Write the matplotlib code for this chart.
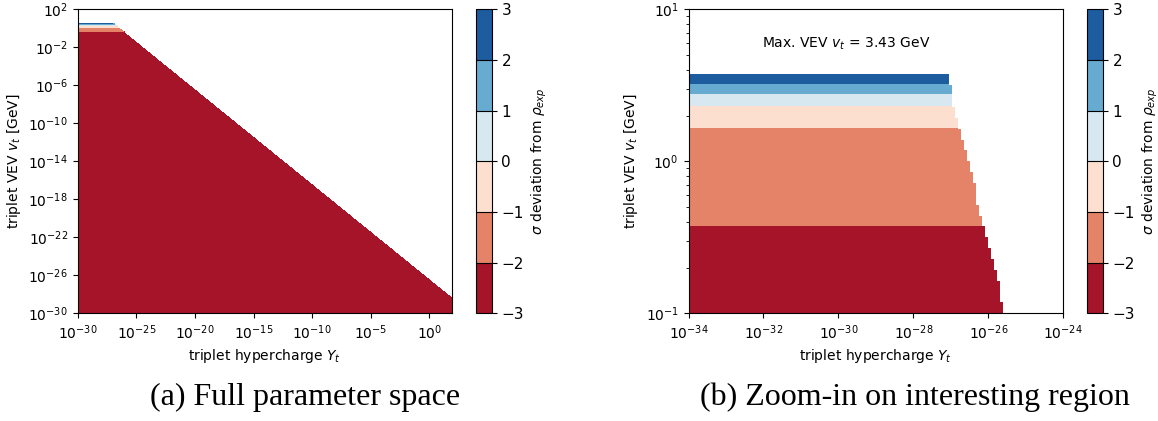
import numpy as np
import matplotlib
matplotlib.use("Agg")
import matplotlib.pyplot as plt
from matplotlib.ticker import NullLocator, FixedLocator, LogFormatterSciNotation

# sigma deviation (v_t in GeV)
vev_knots = [1e-30, 0.373, 1.67, 2.32, 2.79, 3.24, 3.73, 10.0]
sigma_knots = [-2.6, -2.0, -1.0, 0.0, 1.0, 2.0, 3.0, 60.0]
# allowed region: Y_t * v_t below this
yv_limit = 10 ** -26.46
levels = [-3, -2, -1, 0, 1, 2, 3]
max_vev = 3.43

# grids (log10 start, stop, points) for the two panels
full_x = (-30, 2, 65)
full_y = (-30, 2, 65)
zoom_x = (-34, -24, 126)
zoom_y = (-1, 1, 29)


def sigma_field(xr, yr):
    Y = np.logspace(*xr)
    V = np.logspace(*yr)
    YY, VV = np.meshgrid(Y, V)
    S = np.interp(VV, vev_knots, sigma_knots)
    S = np.ma.masked_where(YY * VV > yv_limit, S)
    return Y, V, S


fig = plt.figure(figsize=(11.58, 4.21), dpi=100)
fs = 10

ax1 = fig.add_axes([77.7 / 1158, 1 - 313.3 / 421, 374 / 1158, 304 / 421])
cax1 = fig.add_axes([476 / 1158, 1 - 313.3 / 421, 15.7 / 1158, 304 / 421])
ax2 = fig.add_axes([688.5 / 1158, 1 - 313.3 / 421, 374.8 / 1158, 304 / 421])
cax2 = fig.add_axes([1087.3 / 1158, 1 - 313.3 / 421, 15.4 / 1158, 304 / 421])

Y, V, S = sigma_field(full_x, full_y)
cs1 = ax1.contourf(Y, V, S, levels=levels, cmap="RdBu")
ax1.set_xscale("log")
ax1.set_yscale("log")
ax1.set_xlim(1e-30, 10 ** 1.9)
ax1.set_ylim(1e-30, 1e2)
ax1.xaxis.set_major_locator(FixedLocator([10.0 ** k for k in range(-30, 1, 5)]))
ax1.yaxis.set_major_locator(FixedLocator([10.0 ** k for k in range(-30, 3, 4)]))
ax1.xaxis.set_major_formatter(LogFormatterSciNotation())
ax1.yaxis.set_major_formatter(LogFormatterSciNotation())
ax1.xaxis.set_minor_locator(NullLocator())
ax1.yaxis.set_minor_locator(NullLocator())
ax1.set_xlabel("triplet hypercharge $Y_t$", fontsize=fs)
ax1.set_ylabel("triplet VEV $v_t$ [GeV]", fontsize=fs)
ax1.tick_params(labelsize=fs)

Y, V, S = sigma_field(zoom_x, zoom_y)
cs2 = ax2.contourf(Y, V, S, levels=levels, cmap="RdBu", corner_mask=False)
ax2.set_xscale("log")
ax2.set_yscale("log")
ax2.set_xlim(1e-34, 1e-24)
ax2.set_ylim(1e-1, 1e1)
ax2.xaxis.set_major_locator(FixedLocator([10.0 ** k for k in range(-34, -23, 2)]))
ax2.xaxis.set_major_formatter(LogFormatterSciNotation())
ax2.xaxis.set_minor_locator(NullLocator())
ax2.set_xlabel("triplet hypercharge $Y_t$", fontsize=fs)
ax2.set_ylabel("triplet VEV $v_t$ [GeV]", fontsize=fs)
ax2.tick_params(labelsize=fs)
ax2.text(0.422, 0.885, f"Max. VEV $v_t$ = {max_vev} GeV", transform=ax2.transAxes,
         ha="center", va="center", fontsize=fs)

for cs, cax in [(cs1, cax1), (cs2, cax2)]:
    cb = fig.colorbar(cs, cax=cax, drawedges=True)
    cb.dividers.set_linewidth(0.8)
    cb.set_ticks(levels)
    cb.ax.tick_params(labelsize=11)
    cb.set_label(r"$\sigma$ deviation from $\rho_{exp}$", fontsize=fs)

fig.text(305 / 1158, 1 - 397 / 421, "(a) Full parameter space",
         ha="center", va="center", fontsize=23, family="Liberation Serif")
fig.text(915 / 1158, 1 - 397 / 421, "(b) Zoom-in on interesting region",
         ha="center", va="center", fontsize=23, family="Liberation Serif")

fig.savefig("out.png", dpi=100)
